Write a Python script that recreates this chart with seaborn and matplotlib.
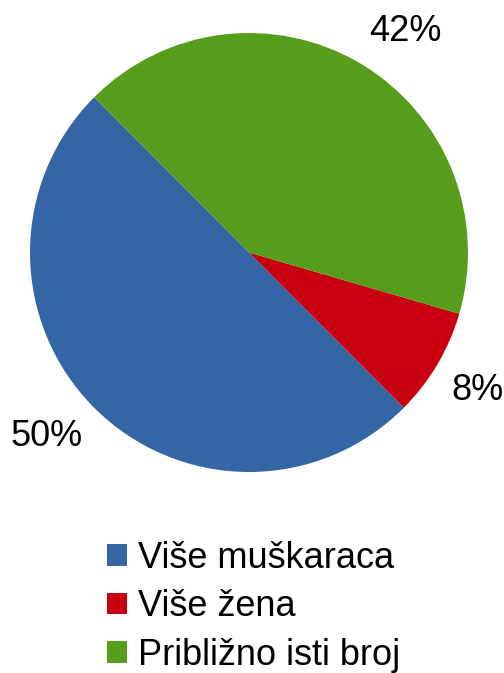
import matplotlib
matplotlib.use("Agg")
import numpy as np
import matplotlib.pyplot as plt
import seaborn as sns

# Data
categories = ["Više muškaraca", "Više žena", "Približno isti broj"]
shares = [50, 8, 42]
colors = ["#3465A4", "#C9000F", "#579D1C"]

sns.set_theme(style="white")
plt.rcParams["font.family"] = ["Liberation Sans", "DejaVu Sans"]
plt.rcParams["text.color"] = "black"

fig = plt.figure(figsize=(5.04, 6.73), dpi=100)
ax = fig.add_axes([30 / 504, 1 - 472 / 673, 438 / 504, 439 / 673])

wedges, _ = ax.pie(
    shares, colors=colors, startangle=135, counterclock=True,
    radius=1.0, wedgeprops={"linewidth": 0},
)

# percentage labels sit just outside the wedge, anchored by their corner
for w, val in zip(wedges, shares):
    mid = np.deg2rad((w.theta1 + w.theta2) / 2)
    x, y = 1.075 * np.cos(mid), 1.075 * np.sin(mid)
    ax.text(x, y, f"{val}%", fontsize=26, color="black",
            ha="left" if x > 0 else "right",
            va="bottom" if y > 0 else "top")

ax.set_xlim(-1, 1)
ax.set_ylim(-1, 1)
ax.set_aspect("auto")
ax.axis("off")

fig.legend(
    wedges, categories, loc="upper left",
    bbox_to_anchor=(107 / 504, 1 - 541 / 673),
    frameon=False, fontsize=26, borderpad=0, borderaxespad=0,
    handlelength=0.55, handleheight=0.55, handletextpad=0.3,
    labelspacing=0.37, labelcolor="black",
)

fig.savefig("out.png", dpi=100)
